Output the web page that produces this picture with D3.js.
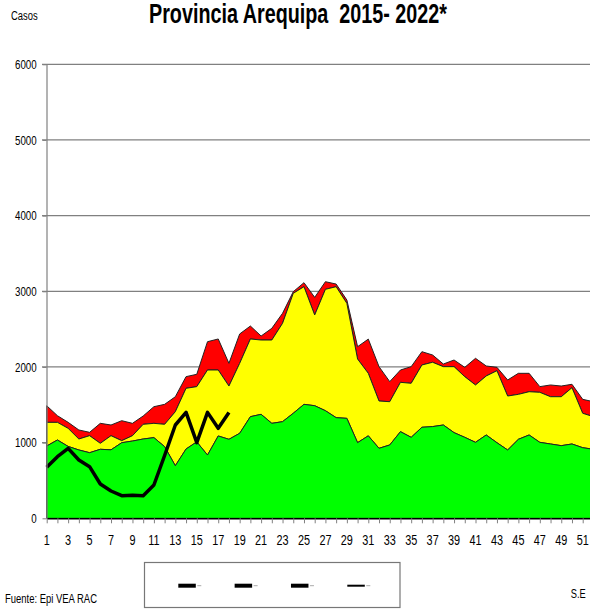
<!DOCTYPE html>
<html>
<head>
<meta charset="utf-8">
<script src="https://cdn.jsdelivr.net/npm/d3@7/dist/d3.min.js"></script>
<style>
  html, body { margin: 0; padding: 0; background: #fff; }
  svg { display: block; }
  text { font-family: "Liberation Sans Narrow", "Arial Narrow", "Liberation Sans", Arial, sans-serif; }
</style>
</head>
<body>
<svg id="chart" width="590" height="609"></svg>
<script>
// ---- Data ----
const weeks = d3.range(1, 53);
// Upper bound of green zone
const greenTop = [955,1035,950,903,867,912,905,999,1021,1048,1066,947,695,916,1010,836,1088,1044,1123,1343,
                  1374,1255,1277,1388,1506,1488,1422,1330,1321,1000,1090,925,969,1145,1070,1203,1212,1233,1132,1070,
                  1004,1101,999,903,1044,1101,1004,982,960,982,933,912];
// Upper bound of yellow zone
const yellowTop = [1268,1268,1189,1048,1092,991,1092,1026,1092,1242,1255,1242,1409,1718,1740,1960,1960,1748,2048,2370,
                   2356,2356,2577,2973,3061,2687,3026,3061,2841,2105,1916,1550,1541,1797,1784,2026,2062,2004,2004,1872,
                   1762,1881,1951,1616,1638,1673,1665,1607,1607,1726,1388,1343];
// Upper bound of red zone
const redTop = [1488,1356,1268,1167,1136,1255,1233,1290,1255,1352,1475,1506,1607,1872,1903,2334,2370,2048,2436,2541,
                2409,2511,2709,2995,3114,2920,3127,3096,2885,2268,2368,2004,1806,1960,2004,2202,2158,2039,2092,1995,
                2114,2013,1995,1828,1916,1916,1740,1762,1748,1771,1572,1541];
// 2022 cases (weeks 1-18)
const cases2022 = [674,814,925,770,682,453,361,299,304,299,440,830,1233,1400,1000,1400,1189,1397];
const yTicks = [0,1000,2000,3000,4000,5000,6000];
const xTickLabels = d3.range(1, 52, 2);
const titleText = "Provincia Arequipa  2015- 2022*";
const legendWidths = [4, 4, 4, 2];

// ---- Scales ----
const svg = d3.select("#chart");
const x = d3.scaleLinear().domain([1, 52]).range([46.7, 46.7 + 51 * 10.72]);
const y = d3.scaleLinear().domain([0, 6000]).range([518.3, 64.3]);
const SX = 0.75; // horizontal squeeze to mimic the narrow font

// Gridlines
svg.append("g").selectAll("line").data(yTicks.filter(d => d > 0)).join("line")
  .attr("x1", 42).attr("x2", 600)
  .attr("y1", d => y(d)).attr("y2", d => y(d))
  .attr("stroke", "#808080").attr("stroke-width", 1.2);

// Areas
const area = (lo, hi) => d3.area()
  .x((d, i) => x(weeks[i]))
  .y0((d, i) => lo ? y(lo[i]) : y(0))
  .y1((d, i) => y(hi[i]));

svg.append("path").datum(weeks).attr("d", area(yellowTop, redTop))
  .attr("fill", "#ff0000").attr("stroke", "#222").attr("stroke-width", 1);
svg.append("path").datum(weeks).attr("d", area(greenTop, yellowTop))
  .attr("fill", "#ffff00").attr("stroke", "#222").attr("stroke-width", 1);
svg.append("path").datum(weeks).attr("d", area(null, greenTop))
  .attr("fill", "#00ff00").attr("stroke", "#222").attr("stroke-width", 1);

// 2022 line
svg.append("path").datum(cases2022)
  .attr("d", d3.line().x((d, i) => x(i + 1)).y(d => y(d)))
  .attr("fill", "none").attr("stroke", "#000").attr("stroke-width", 3.5)
  .attr("stroke-linejoin", "round");

// Y axis
const yAxis = svg.append("g").attr("transform", "translate(46.5,0)")
  .call(d3.axisLeft(y).tickValues(yTicks).tickSize(4).tickSizeOuter(0).tickFormat(d3.format("d")));
yAxis.select(".domain").attr("stroke", "#808080").attr("stroke-width", 1.2);
yAxis.selectAll(".tick line").attr("stroke", "#808080");
yAxis.selectAll(".tick text").attr("font-size", 13).attr("fill", "#000")
  .attr("x", -9.8 / SX).attr("transform", `scale(${SX},1)`);

// X axis
const xAxis = svg.append("g").attr("transform", "translate(0,518.3)")
  .call(d3.axisBottom(x).tickValues(weeks).tickSize(5).tickSizeOuter(0).tickFormat(""));
xAxis.select(".domain").attr("stroke", "#000").attr("stroke-width", 1.5);
xAxis.selectAll(".tick line").attr("stroke", "#808080");
svg.append("g").selectAll("text").data(xTickLabels).join("text")
  .attr("transform", d => `translate(${x(d)},545) scale(${SX},1)`)
  .attr("text-anchor", "middle").attr("font-size", 14.5).text(d => d);

// Title & labels
svg.append("text").attr("x", 149).attr("y", 22.5).attr("font-size", 27).attr("font-weight", "bold")
  .style("white-space", "pre")
  .attr("textLength", 298).attr("lengthAdjust", "spacingAndGlyphs").text(titleText);
svg.append("text").attr("x", 11).attr("y", 19.5).attr("font-size", 12.5)
  .attr("textLength", 26.7).attr("lengthAdjust", "spacingAndGlyphs").text("Casos");
svg.append("text").attr("x", 5).attr("y", 602.5).attr("font-size", 12.5)
  .attr("textLength", 92).attr("lengthAdjust", "spacingAndGlyphs").text("Fuente: Epi VEA RAC");
svg.append("text").attr("x", 570.7).attr("y", 598).attr("font-size", 12.5)
  .attr("textLength", 15).attr("lengthAdjust", "spacingAndGlyphs").text("S.E");

// Legend
const lg = svg.append("g");
lg.append("rect").attr("x", 144.5).attr("y", 562.5).attr("width", 255.5).attr("height", 45)
  .attr("fill", "#fff").attr("stroke", "#777").attr("stroke-width", 1.2);
const legX = d3.scalePoint().domain(d3.range(4)).range([178.3, 347.3]);
lg.selectAll("line.sym").data(legendWidths).join("line").attr("class", "sym")
  .attr("x1", (d, i) => legX(i)).attr("x2", (d, i) => legX(i) + 17.5)
  .attr("y1", 585.7).attr("y2", 585.7).attr("stroke", "#000").attr("stroke-width", d => d);
lg.selectAll("line.dash").data(legendWidths).join("line").attr("class", "dash")
  .attr("x1", (d, i) => legX(i) + 19).attr("x2", (d, i) => legX(i) + 23)
  .attr("y1", 585.7).attr("y2", 585.7).attr("stroke", "#aaa").attr("stroke-width", 1);
</script>
</body>
</html>
